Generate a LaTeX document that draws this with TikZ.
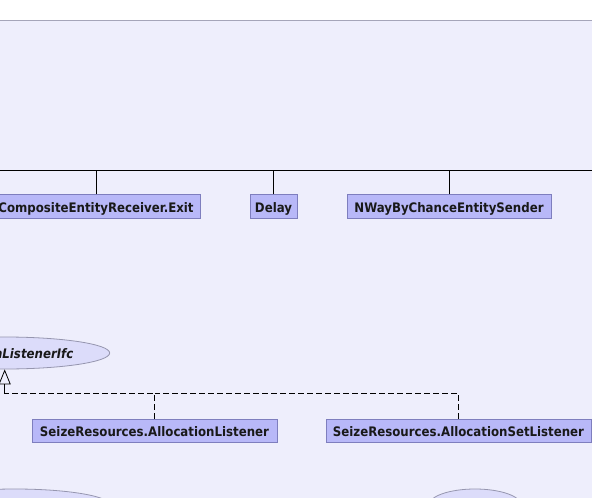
\documentclass[tikz,border=0pt]{standalone}
\usepackage{fontspec}
\setmainfont{DejaVu Sans Condensed}
\usetikzlibrary{arrows.meta,shapes.geometric}

\definecolor{pagebg}{RGB}{238,238,252}
\definecolor{frameline}{RGB}{165,165,185}
\definecolor{classfill}{RGB}{184,184,248}
\definecolor{classedge}{RGB}{126,126,190}
\definecolor{ifcfill}{RGB}{220,220,250}
\definecolor{ifcedge}{RGB}{150,150,175}

\tikzset{
  classbox/.style={rectangle, draw=classedge, fill=classfill, line width=0.8pt,
    minimum height=23.5pt, inner xsep=2pt, inner ysep=0pt,
    text height=12pt, text depth=0.6pt,
    font=\bfseries\fontsize{13.1}{15}\selectfont, text=black!90},
  ifcnode/.style={ellipse, draw=ifcedge, fill=ifcfill, line width=0.8pt,
    minimum width=210pt, minimum height=32pt, inner sep=0pt,
    text height=11.5pt, text depth=0.6pt,
    font=\bfseries\itshape\fontsize{13.1}{15}\selectfont, text=black!90},
  lownode/.style={ellipse, draw=ifcedge, fill=ifcfill, line width=0.8pt,
    minimum height=32pt},
  extends/.style={line width=0.8pt, black},
  realizes/.style={line width=0.8pt, black, dash pattern=on 6pt off 3pt}
}

\begin{document}
\begin{tikzpicture}[x=1pt, y=-1pt]
  \useasboundingbox (0,0) rectangle (592,498);
  \clip (0,0) rectangle (592,498);

  % page frame: white strip above, tinted diagram area below
  \fill[white] (0,0) rectangle (592,20);
  \fill[pagebg] (0,20) rectangle (592,498);
  \draw[frameline, line width=1pt] (0,20.5) -- (592,20.5);

  % subclasses hanging from a common bar
  \node[classbox, minimum width=208pt] (exit)  at (96,206.5)   {CompositeEntityReceiver.Exit};
  \node[classbox, minimum width=47pt]  (delay) at (273.5,206.5) {Delay};
  \node[classbox, minimum width=204pt] (nway)  at (449,206.5)  {NWayByChanceEntitySender};

  \coordinate (barL) at (-5,170);
  \coordinate (barR) at (597,170);
  \draw[extends] (barL) -- (barR);
  \draw[extends] (exit.north)  -- (exit.north |- barL);
  \draw[extends] (delay.north) -- (delay.north |- barL);
  \draw[extends] (nway.north)  -- (nway.north |- barL);

  % listener interface and its two implementations
  \node[ifcnode] (ifc) at (4.7,353) {AllocationListenerIfc};
  \node[classbox, minimum width=245pt] (alloc)    at (154.5,431) {SeizeResources.AllocationListener};
  \node[classbox, minimum width=265pt] (allocset) at (458.5,431) {SeizeResources.AllocationSetListener};

  \coordinate (join) at (4.7,393.5);
  \draw[realizes] (alloc.north) -- (alloc.north |- join) -- (join);
  \draw[realizes] (allocset.north) -- (allocset.north |- join) -- (alloc.north |- join);
  \draw[line width=0.8pt, black, -{Triangle[open, length=15pt, width=12pt]}]
    (join) -- (ifc.south);

  % further interfaces below the view
  \node[lownode, minimum width=190pt] (lowL) at (15,505) {};
  \node[lownode, minimum width=92pt]  (lowR) at (475,505) {};
\end{tikzpicture}
\end{document}
